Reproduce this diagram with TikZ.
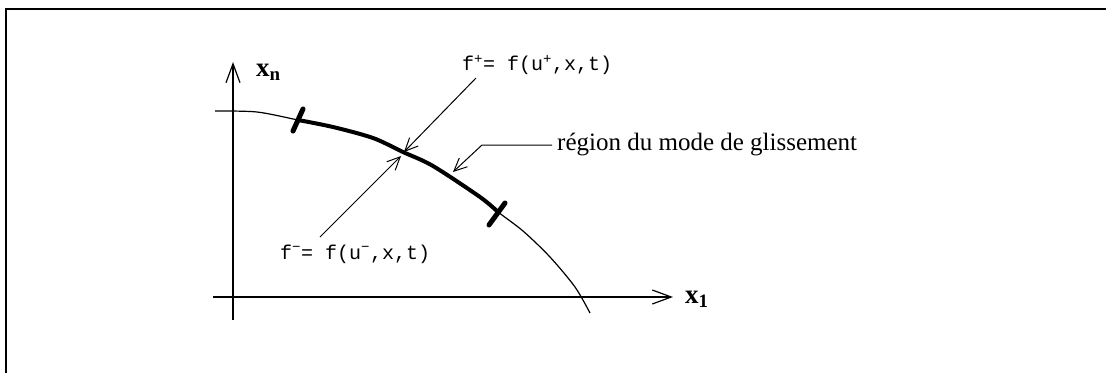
\documentclass[tikz,border=0pt]{standalone}
\usepackage{fontspec}
\setmainfont{Liberation Serif}
\setmonofont{Liberation Mono}
\usetikzlibrary{arrows.meta,positioning}
\tikzset{
  axis/.style  ={-{Straight Barb[length=19pt,width=14pt,line width=1.2pt]},line width=1.2pt},
  pointer/.style={-{Straight Barb[length=13pt,width=12pt,line width=1pt]},line width=1pt},
  curve/.style ={line width=1.2pt,line join=round},
  sliding/.style={line width=4pt,line join=round},
  tickmark/.style={line width=5pt,line cap=round},
  axlabel/.style={font=\fontsize{27}{30}\selectfont\bfseries,inner sep=0pt},
  monolabel/.style={font=\fontsize{20}{24}\selectfont\ttfamily,inner sep=0pt},
  txtlabel/.style={font=\fontsize{25}{28}\selectfont,inner sep=0pt}
}

\begin{document}
\begin{tikzpicture}[x=1pt,y=-1pt]
        \useasboundingbox (0,0) rectangle (1106,373);
        % frame
        \draw[line width=2pt] (1106,9) -- (6,9) -- (6,373);
        % axes
        \coordinate (yfoot) at (233,320);
        \coordinate (ytop) at (233,62);
        \coordinate (xfoot) at (213,297);
        \coordinate (xtip) at (673,297);
        \draw[axis] (yfoot) -- (ytop);
        \draw[axis] (xfoot) -- (xtip);
        \node[axlabel,anchor=west] (xn) at (256,72) {x\textsubscript{n}};
        \node[axlabel,anchor=west] (xone) at (685,299) {x\textsubscript{1}};
        % switching surface
        \draw[curve] plot[smooth,tension=0.5] coordinates {(215,111) (257,112) (298,120)
          (333,127) (373,138) (403,152) (433,166) (480,197) (498,212) (523,231)
          (550,257) (575,287) (590,313)};
        \draw[sliding] plot[smooth,tension=0.5] coordinates {(298,120) (333,127)
          (373,138) (403,152) (433,166) (480,197) (498,212)};
        \coordinate (tickA) at (298,120);
        \coordinate (tickB) at (497,214);
        \draw[tickmark] ([shift={(-5,11)}]tickA) -- ([shift={(5,-11)}]tickA);
        \draw[tickmark] ([shift={(-8,11)}]tickB) -- ([shift={(8,-11)}]tickB);
        \coordinate (meet) at (404,152);
        % vector fields
        \node[monolabel,anchor=west] (fplus) at (462,65) {f\textsuperscript{+}= f(u\textsuperscript{+},x,t)};
        \node[monolabel,anchor=west] (fminus) at (280,254) {f\textsuperscript{\textminus}= f(u\textsuperscript{\textminus},x,t)};
        \coordinate (fplusfoot) at (476,78);
        \coordinate (fminusfoot) at (320,237);
        \draw[pointer] (fplusfoot) -- (meet);
        \draw[pointer] (fminusfoot) -- ([shift={(-3,4)}]meet);
        % sliding region
        \node[txtlabel,anchor=west] (region) at (557,145) {région du mode de glissement};
        \coordinate (bend) at (482,145);
        \coordinate (regtip) at (453,172);
        \draw[pointer] ([xshift=-5pt]region.west) -- (bend) -- (regtip);
      \end{tikzpicture}
\end{document}
